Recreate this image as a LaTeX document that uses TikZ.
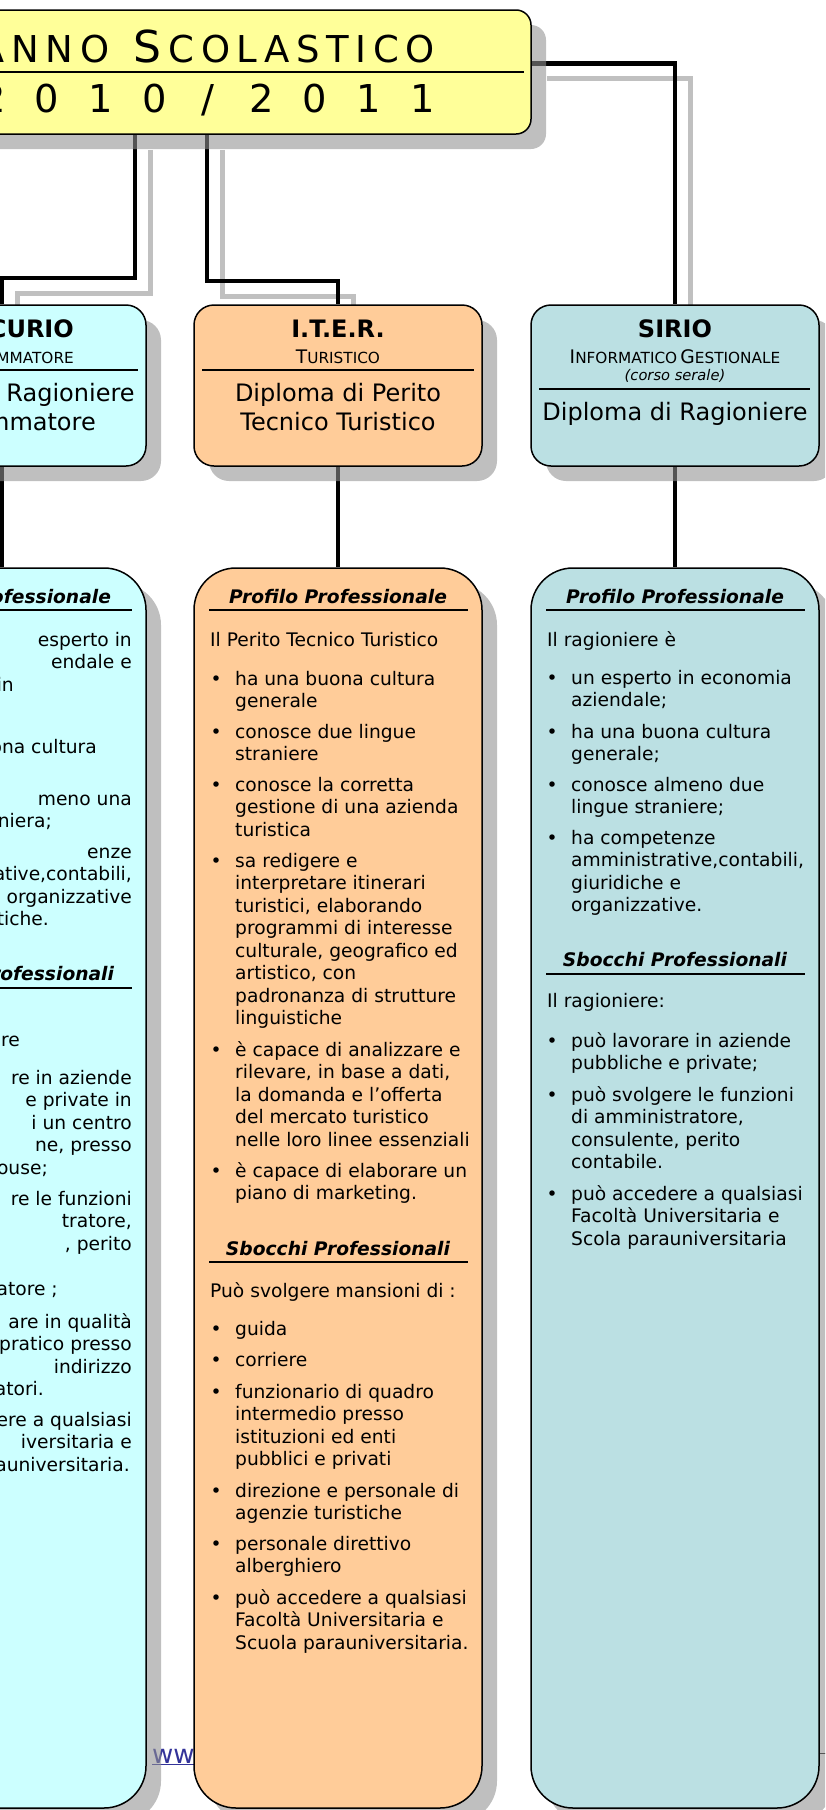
\documentclass[tikz,border=0pt]{standalone}
\usepackage{fontspec}
\setmainfont{DejaVu Sans}
\usetikzlibrary{shadows,backgrounds}
\definecolor{mercfill}{HTML}{CCFFFF}
\definecolor{iterfill}{HTML}{FFCC99}
\definecolor{siriofill}{HTML}{BBE0E3}
\definecolor{titlefill}{HTML}{FFFF99}
\definecolor{linegray}{HTML}{C0C0C0}
\definecolor{linkblue}{HTML}{333399}
\newcommand\bodyfont{\fontsize{18.67}{22.5}\selectfont}
\newcommand\pb[1]{\parbox[t]{320pt}{\bodyfont\raggedright #1}}
\newcommand\pr[1]{\parbox[t]{300pt}{\bodyfont\raggedleft #1}}
\newcommand\bl{\leavevmode\llap{\textbullet\hspace{13.5pt}}}
\newcommand\fsc[2]{{\fontsize{18.67}{22}\selectfont #1\fontsize{15.3}{18}\selectfont #2}}
\newcommand\bigfont{\fontsize{24}{29}\selectfont}
\newcommand\capA{\fontsize{44}{48}\selectfont}
\newcommand\capB{\fontsize{37}{40}\selectfont}
\newcommand\lsk{\kern6.7pt}
\newcommand\dg[1]{\makebox[41.4pt][c]{#1}}
\tikzset{
  shadowed/.style={drop shadow={shadow xshift=15pt, shadow yshift=-15pt, fill=black!43, opacity=0.58}},
  titlebox/.style={draw=black, line width=1.5pt, fill=titlefill, rounded corners=15pt, inner sep=0pt, shadowed},
  midbox/.style={draw=black, line width=1.5pt, rounded corners=20pt, minimum width=288pt, minimum height=161pt, inner sep=0pt, shadowed},
  colbox/.style={draw=black, line width=1.5pt, rounded corners=42pt, minimum width=288pt, minimum height=1240pt, inner sep=0pt, shadowed},
  conn/.style={line width=4.7pt, black},
  connshadow/.style={line width=5pt, linegray, transform canvas={shift={(15pt,-15pt)}}},
  ptext/.style={anchor=base west, inner sep=0pt},
  rtext/.style={anchor=base east, inner sep=0pt},
  ctext/.style={anchor=base, inner sep=0pt},
  hdrule/.style={line width=2pt},
  hd/.style={anchor=base, inner sep=0pt, font=\fontsize{18.67}{22.5}\selectfont\bfseries\itshape},
}
\begin{document}
\begin{tikzpicture}[x=1pt,y=-1pt]
\useasboundingbox (0,0) rectangle (825,1810);
\clip (0,0) rectangle (825,1810);
% ---------- boxes ----------
\node[titlebox, minimum width=731pt, minimum height=124pt] (title) at (165.5,72) {};
\node[midbox, fill=mercfill] (mercH) at (2,385.5) {};
\node[midbox, fill=iterfill] (iterH) at (338,385.5) {};
\node[midbox, fill=siriofill] (sirioH) at (675,385.5) {};
\node[colbox, fill=mercfill] (mercL) at (2,1188) {};
\node[colbox, fill=iterfill] (iterL) at (338,1188) {};
\node[colbox, fill=siriofill] (sirioL) at (675,1188) {};
% ---------- connectors (behind) ----------
\begin{pgfonlayer}{background}
\clip (0,0) rectangle (825,1810);
\path (135,0) coordinate (x1) (207,0) coordinate (x2);
\coordinate (k1) at (135,278);
\coordinate (k2) at (207,281);
\coordinate (rr) at (830,1753);
\node[ptext, text=linkblue] (www) at (152,1763) {\fontsize{26}{30}\selectfont\underline{www}};
\draw[line width=1pt] (sirioL.east |- rr) -- (rr);
\draw[connshadow] (title.south -| x1) -- (k1) -| (mercH.north);
\draw[connshadow] (title.south -| x2) -- (k2) -| (iterH.north);
\draw[connshadow] ([yshift=8.5pt]title.east) -| (sirioH.north);
\draw[conn] (title.south -| x1) -- (k1) -| (mercH.north);
\draw[conn] (title.south -| x2) -- (k2) -| (iterH.north);
\draw[conn] ([yshift=8.5pt]title.east) -| (sirioH.north);
\draw[conn] (mercH.south) -- (mercL.north);
\draw[conn] (iterH.south) -- (iterL.north);
\draw[conn] (sirioH.south) -- (sirioL.north);
\end{pgfonlayer}
% ---------- title ----------
\draw[hdrule] (-200,72) -- (524,72);
\node[ptext] (tl1) at (-25.7,62) {\capA A\lsk\capB N\lsk N\lsk O\kern13pt\ \capA S\lsk\capB C\lsk O\lsk L\lsk A\lsk S\lsk T\lsk I\lsk C\lsk O};
\node[ptext] (tl2) at (-27.3,112) {\fontsize{38.4}{42}\selectfont\dg{2} \dg{0} \dg{1} \dg{0} \dg{/} \dg{2} \dg{0} \dg{1} \dg{1}};
% ---------- middle headers ----------
\node[ctext] (mh1) at (2,337) {\bigfont\bfseries MERCURIO};
\node[ctext] (mh2) at (2,363) {\fsc{P}{ROGRAMMATORE}};
\draw[hdrule] (-134,370) -- (138,370);
\node[ctext] (mh3) at (2,401) {\parbox[t]{300pt}{\centering\bigfont Diploma di Ragioniere\\Programmatore}};
\node[ctext] (ih1) at (338,337) {\bigfont\bfseries I.T.E.R.};
\node[ctext] (ih2) at (338,363) {\fsc{T}{URISTICO}};
\draw[hdrule] (202,370) -- (474,370);
\node[ctext] (ih3) at (338,401) {\parbox[t]{280pt}{\centering\bigfont Diploma di Perito\\Tecnico Turistico}};
\node[ctext] (sh1) at (675,337) {\bigfont\bfseries SIRIO};
\node[ctext] (sh2) at (675,363) {\fsc{I}{NFORMATICO} \fsc{G}{ESTIONALE}};
\node[ctext] (sh4) at (675,380) {\fontsize{14.67}{18}\selectfont\itshape (corso serale)};
\draw[hdrule] (539,389) -- (810,389);
\node[ctext] (sh3) at (675,420) {\bigfont Diploma di Ragioniere};
% ---------- MERCURIO column (visible part) ----------
\node[hd] (mph) at (2,603) {Profilo Professionale};
\draw[hdrule] (-127,610) -- (132,610);
\node[rtext] (mp1) at (132,646) {\pr{esperto in\hspace*{32pt}\\endale e\hspace*{57pt}\\in\hspace*{118pt}}};
\node[rtext] (mp2) at (132,753) {\pr{ona cultura\hspace*{35pt}}};
\node[rtext] (mp3) at (132,805) {\pr{meno una\hspace*{44pt}\\niera;\hspace*{80pt}}};
\node[rtext] (mp4) at (132,858) {\pr{enze\hspace*{92pt}\\ative,contabili,\hspace*{3pt}\\organizzative\hspace*{6pt}\\tiche.\hspace*{83pt}}};
\node[hd] (msh) at (2,980) {Sbocchi Professionali};
\draw[hdrule] (-127,988) -- (132,988);
\node[rtext] (ms1) at (132,1046) {\pr{re\hspace*{112pt}}};
\node[rtext] (ms2) at (132,1084) {\pr{re in aziende\hspace*{15pt}\\e private in\hspace*{32pt}\\i un centro\hspace*{31pt}\\ne, presso\hspace*{42pt}\\ouse;\hspace*{84pt}}};
\node[rtext] (ms3) at (132,1205) {\pr{re le funzioni\hspace*{12pt}\\tratore,\hspace*{62pt}\\, perito\hspace*{66pt}\\\mbox{}\\atore ;\hspace*{74pt}}};
\node[rtext] (ms4) at (132,1328) {\pr{are in qualità\hspace*{8pt}\\pratico presso\hspace*{5pt}\\indirizzo\hspace*{50pt}\\atori.\hspace*{88pt}}};
\node[rtext] (ms5) at (132,1426) {\pr{ere a qualsiasi\hspace*{4pt}\\iversitaria e\hspace*{26pt}\\auniversitaria.\hspace*{2pt}}};
% ---------- ITER column ----------
\node[hd] (iph) at (338,603) {Profilo Professionale};
\draw[hdrule] (209,610) -- (468,610);
\node[ptext] (ip0) at (210,646) {\pb{Il Perito Tecnico Turistico}};
\node[ptext] (ip1) at (235,685) {\pb{\bl ha una buona cultura\\generale}};
\node[ptext] (ip2) at (235,738) {\pb{\bl conosce due lingue\\straniere}};
\node[ptext] (ip3) at (235,791) {\pb{\bl conosce la corretta\\gestione di una azienda\\turistica}};
\node[ptext] (ip4) at (235,867) {\pb{\bl sa redigere e\\interpretare itinerari\\turistici, elaborando\\programmi di interesse\\culturale, geografico ed\\artistico, con\\padronanza di strutture\\linguistiche}};
\node[ptext] (ip5) at (235,1056) {\pb{\bl è capace di analizzare e\\rilevare, in base a dati,\\la domanda e l’offerta\\del mercato turistico\\nelle loro linee essenziali}};
\node[ptext] (ip6) at (235,1177) {\pb{\bl è capace di elaborare un\\piano di marketing.}};
\node[hd] (ish) at (338,1255) {Sbocchi Professionali};
\draw[hdrule] (209,1262) -- (468,1262);
\node[ptext] (is0) at (210,1297) {\pb{Può svolgere mansioni di :}};
\node[ptext] (is1) at (235,1335) {\pb{\bl guida}};
\node[ptext] (is2) at (235,1366) {\pb{\bl corriere}};
\node[ptext] (is3) at (235,1398) {\pb{\bl funzionario di quadro\\intermedio presso\\istituzioni ed enti\\pubblici e privati}};
\node[ptext] (is4) at (235,1497) {\pb{\bl direzione e personale di\\agenzie turistiche}};
\node[ptext] (is5) at (235,1550) {\pb{\bl personale direttivo\\alberghiero}};
\node[ptext] (is6) at (235,1604) {\pb{\bl può accedere a qualsiasi\\Facoltà Universitaria e\\Scuola parauniversitaria.}};
% ---------- SIRIO column ----------
\node[hd] (sph) at (675,603) {Profilo Professionale};
\draw[hdrule] (546,610) -- (805,610);
\node[ptext] (sp0) at (547,646) {\pb{Il ragioniere è}};
\node[ptext] (sp1) at (571,684) {\pb{\bl un esperto in economia\\aziendale;}};
\node[ptext] (sp2) at (571,738) {\pb{\bl ha una buona cultura\\generale;}};
\node[ptext] (sp3) at (571,791) {\pb{\bl conosce almeno due\\lingue straniere;}};
\node[ptext] (sp4) at (571,844) {\pb{\bl ha competenze\\amministrative,contabili,\\giuridiche e\\organizzative.}};
\node[hd] (ssh) at (675,966) {Sbocchi Professionali};
\draw[hdrule] (546,974) -- (805,974);
\node[ptext] (ss0) at (547,1007) {\pb{Il ragioniere:}};
\node[ptext] (ss1) at (571,1047) {\pb{\bl può lavorare in aziende\\pubbliche e private;}};
\node[ptext] (ss2) at (571,1101) {\pb{\bl può svolgere le funzioni\\di amministratore,\\consulente, perito\\contabile.}};
\node[ptext] (ss3) at (571,1200) {\pb{\bl può accedere a qualsiasi\\Facoltà Universitaria e\\Scola parauniversitaria}};
\end{tikzpicture}
\end{document}
